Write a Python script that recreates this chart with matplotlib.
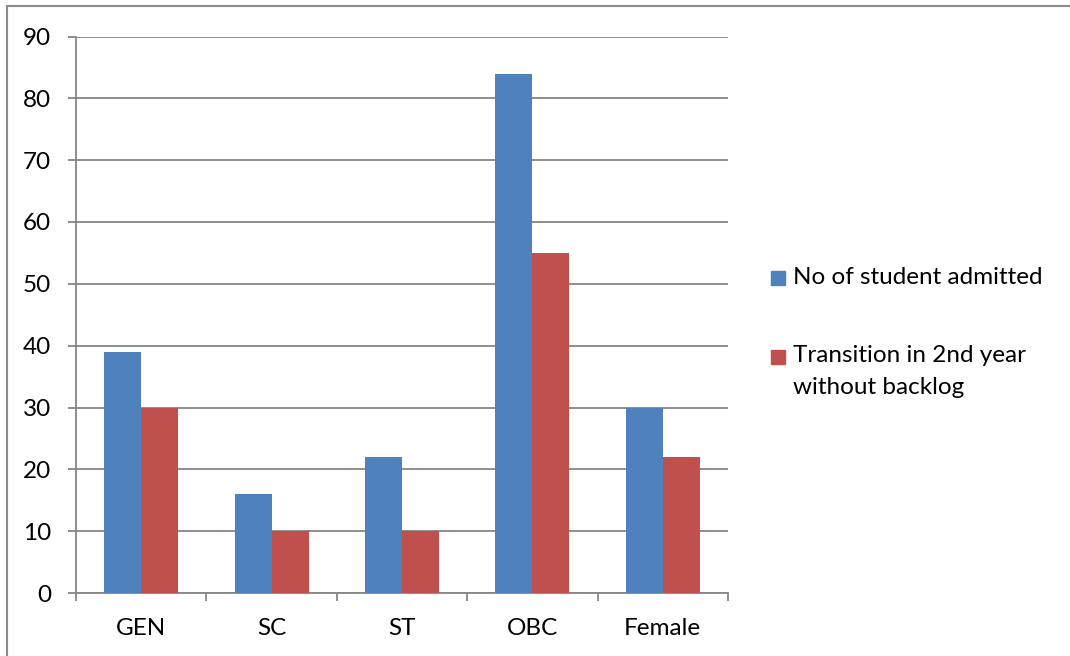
import numpy as np
import matplotlib.pyplot as plt
from matplotlib.patches import Rectangle

categories = ["GEN", "SC", "ST", "OBC", "Female"]
admitted = [39, 16, 22, 84, 30]
transition = [30, 10, 10, 55, 22]
series_names = ["No of student admitted", "Transition in 2nd year\nwithout backlog"]

blue = "#4F81BD"
red = "#C0504D"
gray = "#868686"
fs = 17.5

plt.rcParams['font.family'] = ['Lato', 'DejaVu Sans']

fig = plt.figure(figsize=(10.7, 6.56), dpi=100)
ax = fig.add_axes([76 / 1070, 63 / 656, 652 / 1070, 556.5 / 656])

x = np.arange(len(categories))
w = 0.284
ax.bar(x - w / 2, admitted, w, color=blue, zorder=3)
ax.bar(x + w / 2, transition, w, color=red, zorder=3)

ax.set_xlim(-0.5, len(categories) - 0.5)
ax.set_ylim(0, 90)
ax.set_yticks(np.arange(0, 91, 10))
ax.yaxis.grid(True, color=gray, linewidth=1.3, zorder=0)

ax.set_xticks(x)
ax.set_xticklabels(categories)
ax.set_xticks(np.arange(-0.5, len(categories)), minor=True)
ax.tick_params(axis='x', which='major', length=0, pad=18, labelsize=fs)
ax.tick_params(axis='x', which='minor', length=6, width=1.3, color=gray, direction='out')
ax.tick_params(axis='y', length=6, width=1.3, color=gray, pad=12, labelsize=fs)

for s in ["top", "right"]:
    ax.spines[s].set_visible(False)
for s in ["left", "bottom"]:
    ax.spines[s].set_color(gray)
    ax.spines[s].set_linewidth(1.3)

# legend drawn by hand so the square sits beside the first text line
sq = 14
fig.patches.append(Rectangle((771 / 1070, 1 - 285 / 656), sq / 1070, sq / 656,
                             transform=fig.transFigure, color=blue))
fig.text(793 / 1070, 1 - 277 / 656, series_names[0], fontsize=fs, va='center')
fig.patches.append(Rectangle((771 / 1070, 1 - 364 / 656), sq / 1070, sq / 656,
                             transform=fig.transFigure, color=red))
fig.text(793 / 1070, 1 - 345 / 656, series_names[1], fontsize=fs, va='top',
         linespacing=1.65)

# outer frame
fig.patches.append(Rectangle((7 / 1070, -0.1), 1.2, 1 - 6 / 656 + 0.1,
                             transform=fig.transFigure, fill=False,
                             edgecolor="#8c8c8c", linewidth=1.5))

fig.savefig("out.png", dpi=100)
